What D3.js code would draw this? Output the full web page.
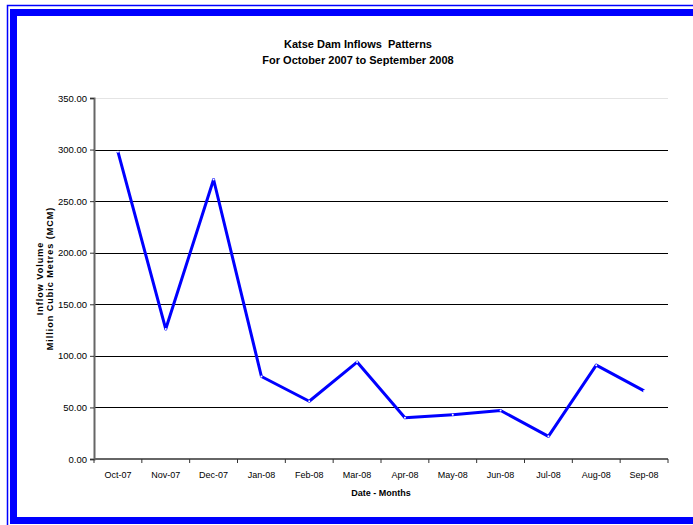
<!DOCTYPE html>
<html>
<head>
<meta charset="utf-8">
<script src="https://cdn.jsdelivr.net/npm/d3@7"></script>
<style>
  html, body { margin: 0; padding: 0; background: #fff; }
  svg { display: block; }
  text { font-family: Arial, "Liberation Sans", sans-serif; fill: #000; white-space: pre; }
</style>
</head>
<body>
<svg id="chart" width="693" height="525"></svg>
<script>
// Monthly inflow volumes into Katse Dam (million cubic metres)
const months = ["Oct-07", "Nov-07", "Dec-07", "Jan-08", "Feb-08", "Mar-08",
                "Apr-08", "May-08", "Jun-08", "Jul-08", "Aug-08", "Sep-08"];
const inflows = [298, 126, 271, 80, 56, 94, 40, 43, 47, 22, 91, 66];
const yTicks = [0, 50, 100, 150, 200, 250, 300, 350];

const svg = d3.select("#chart");
const W = 693, H = 525;
const margin = { left: 94, right: 25, top: 98, bottom: 66 };
const x0 = margin.left, x1 = W - margin.right;
const yTop = margin.top, yBot = H - margin.bottom;

// double blue frame, running off the right and bottom edges
svg.append("rect").attr("x", 7.5).attr("y", 5.5).attr("width", 720).attr("height", 530)
  .attr("fill", "none").attr("stroke", "#0000ff").attr("stroke-width", 1.5);
svg.append("rect").attr("x", 13.5).attr("y", 12.5).attr("width", 700).attr("height", 508)
  .attr("fill", "none").attr("stroke", "#0000ff").attr("stroke-width", 7);

const x = d3.scaleBand().domain(months).range([x0, x1]);
const y = d3.scaleLinear().domain([0, 350]).range([yBot, yTop]);

// horizontal gridlines
svg.append("g").selectAll("line").data(yTicks.filter(t => t > 0)).join("line")
  .attr("x1", x0).attr("x2", x1)
  .attr("y1", d => Math.round(y(d)) + 0.5).attr("y2", d => Math.round(y(d)) + 0.5)
  .attr("stroke", d => d === 350 ? "#e4e4e4" : "#000").attr("stroke-width", 1);

// y axis
const yAxis = svg.append("g").attr("transform", `translate(${x0},0)`)
  .call(d3.axisLeft(y).tickValues(yTicks).tickFormat(d3.format(".2f")).tickSize(4).tickPadding(3));
yAxis.select(".domain").attr("stroke", "#666").attr("stroke-width", 2);
yAxis.selectAll(".tick line").attr("stroke", "#333");
yAxis.selectAll("text").attr("font-size", 9.5);

// x axis with ticks at category boundaries
const xAxis = svg.append("g").attr("transform", `translate(0,${yBot})`);
xAxis.append("line").attr("x1", x0).attr("x2", x1).attr("y1", 0).attr("y2", 0)
  .attr("stroke", "#666").attr("stroke-width", 2);
const bounds = months.map(m => x(m)).concat([x1]);
xAxis.selectAll(".xt").data(bounds).join("line").attr("class", "xt")
  .attr("x1", d => d).attr("x2", d => d).attr("y1", 0).attr("y2", 4)
  .attr("stroke", "#333");
xAxis.selectAll(".xl").data(months).join("text").attr("class", "xl")
  .attr("x", d => x(d) + x.bandwidth() / 2).attr("y", 19)
  .attr("text-anchor", "middle").attr("font-size", 9).text(d => d);

// inflow line
const line = d3.line()
  .x((d, i) => x(months[i]) + x.bandwidth() / 2)
  .y(d => y(d));
svg.append("path").datum(inflows).attr("d", line)
  .attr("fill", "none").attr("stroke", "#0000ff").attr("stroke-width", 3)
  .attr("stroke-linejoin", "round");
svg.append("g").selectAll("circle").data(inflows).join("circle")
  .attr("cx", (d, i) => x(months[i]) + x.bandwidth() / 2).attr("cy", d => y(d))
  .attr("r", 1).attr("fill", "#fff");

// titles
svg.append("text").attr("x", 358).attr("y", 48).attr("text-anchor", "middle")
  .attr("font-size", 11).attr("font-weight", "bold").text("Katse Dam Inflows  Patterns");
svg.append("text").attr("x", 358).attr("y", 64).attr("text-anchor", "middle")
  .attr("font-size", 11).attr("font-weight", "bold").text("For October 2007 to September 2008");
svg.append("text").attr("x", 381).attr("y", 496).attr("text-anchor", "middle")
  .attr("font-size", 9).attr("font-weight", "bold").text("Date - Months");

const yt = svg.append("g").attr("transform", `translate(0,${(yTop + yBot) / 2}) rotate(-90)`);
yt.append("text").attr("x", 0).attr("y", 43).attr("text-anchor", "middle")
  .attr("font-size", 9).attr("font-weight", "bold").attr("letter-spacing", 1).text("Inflow Volume");
yt.append("text").attr("x", 0).attr("y", 53).attr("text-anchor", "middle")
  .attr("font-size", 9).attr("font-weight", "bold").attr("letter-spacing", 1).text("Million Cubic Metres (MCM)");
</script>
</body>
</html>
